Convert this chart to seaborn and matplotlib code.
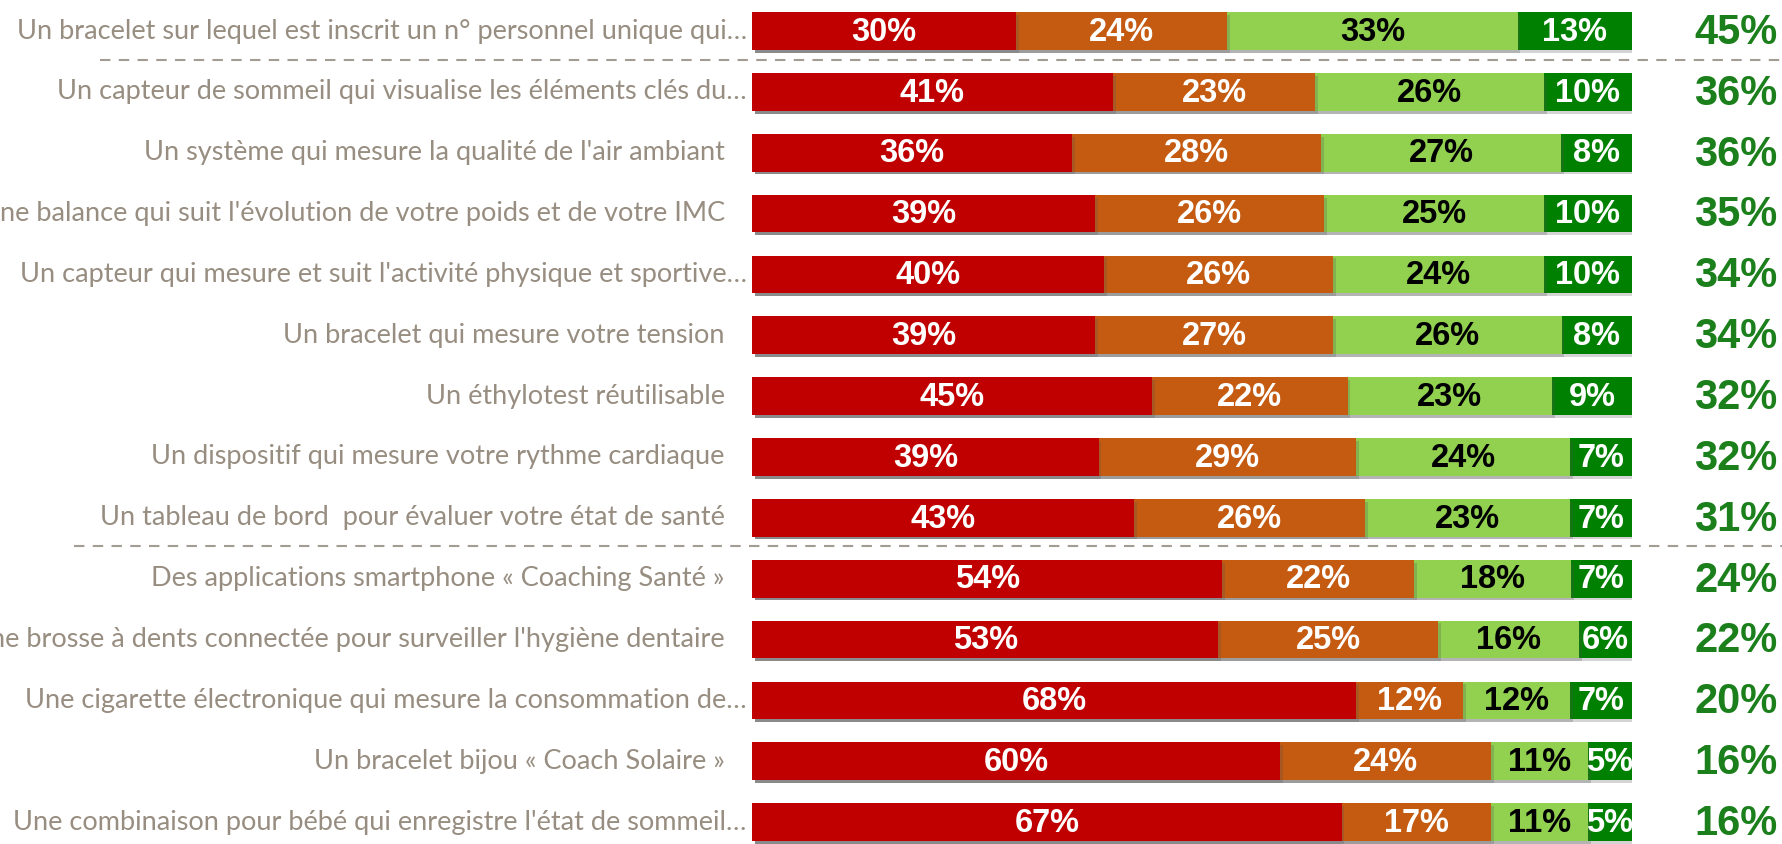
import matplotlib
matplotlib.use("Agg")
import matplotlib.pyplot as plt
import matplotlib.patheffects as pe
import pandas as pd
import seaborn as sns

# --- Data (top row first) ---
LABELS = [
    "Un bracelet sur lequel est inscrit un n° personnel unique qui…",
    "Un capteur de sommeil qui visualise les éléments clés du…",
    "Un système qui mesure la qualité de l'air ambiant",
    "Une balance qui suit l'évolution de votre poids et de votre IMC",
    "Un capteur qui mesure et suit l'activité physique et sportive…",
    "Un bracelet qui mesure votre tension",
    "Un éthylotest réutilisable",
    "Un dispositif qui mesure votre rythme cardiaque",
    "Un tableau de bord  pour évaluer votre état de santé",
    "Des applications smartphone « Coaching Santé »",
    "Une brosse à dents connectée pour surveiller l'hygiène dentaire",
    "Une cigarette électronique qui mesure la consommation de…",
    "Un bracelet bijou « Coach Solaire »",
    "Une combinaison pour bébé qui enregistre l'état de sommeil…",
]
PAS_DU_TOUT = [30, 41, 36, 39, 40, 39, 45, 39, 43, 54, 53, 68, 60, 67]
PLUTOT_PAS = [24, 23, 28, 26, 26, 27, 22, 29, 26, 22, 25, 12, 24, 17]
PLUTOT_OUI = [33, 26, 27, 25, 24, 26, 23, 24, 23, 18, 16, 12, 11, 11]
TOUT_A_FAIT = [13, 10, 8, 10, 10, 8, 9, 7, 7, 7, 6, 7, 5, 5]
TOTAL_INTERET = [45, 36, 36, 35, 34, 34, 32, 32, 31, 24, 22, 20, 16, 16]
SEPARATORS_AFTER = [0, 8]

# --- Style ---
SEG_COLORS = ["#C00000", "#C55A11", "#92D050", "#008000"]
TEXT_COLORS = ["white", "white", "black", "white"]
LABEL_COLOR = "#978D80"
TOTAL_COLOR = "#1B7F1B"

sns.set_style("white")
plt.rcParams["font.family"] = ["Liberation Sans", "DejaVu Sans"]

segments = [PAS_DU_TOUT, PLUTOT_PAS, PLUTOT_OUI, TOUT_A_FAIT]
df = pd.DataFrame({"label": LABELS})
row_sum = sum(pd.Series(s) for s in segments)
cum = pd.Series([0.0] * len(LABELS))
cums = []
for s in segments:
    cum = cum + pd.Series(s) / row_sum * 100
    cums.append(cum.copy())

fig = plt.figure(figsize=(17.83, 8.44), dpi=100)
ax = fig.add_axes([752 / 1783, 0, 880 / 1783, 1])

# draw cumulative layers from the longest to the shortest
for i in range(len(segments) - 1, -1, -1):
    df["value"] = cums[i]
    sns.barplot(data=df, x="value", y="label", color=SEG_COLORS[i], orient="h",
                width=0.62, saturation=1, ax=ax, linewidth=0)

for p in ax.patches:
    p.set_path_effects([pe.SimplePatchShadow(offset=(2, -2), alpha=0.25, shadow_rgbFace="#555555"),
                        pe.Normal()])

ax.set_xlim(0, 100)
ax.set_ylim(13.36, -0.51)
ax.axis("off")

for r in range(len(LABELS)):
    left = 0.0
    for i, s in enumerate(segments):
        right = cums[i][r]
        ax.text((left + right) / 2, r + 0.02, f"{s[r]}%", ha="center", va="center",
                fontsize=23.5, fontweight="bold", color=TEXT_COLORS[i])
        left = right
    x_lab = -0.006 if LABELS[r].endswith("…") else -0.031
    ax.text(x_lab, r, LABELS[r], transform=ax.get_yaxis_transform(), ha="right", va="center",
            fontsize=19.5, color=LABEL_COLOR, family=["Lato", "DejaVu Sans"], clip_on=False)
    ax.text(1.118, r + 0.03, f"{TOTAL_INTERET[r]}%", transform=ax.get_yaxis_transform(),
            ha="center", va="center", fontsize=30, fontweight="bold", color=TOTAL_COLOR, clip_on=False)

# dashed separators between groups
for k, r in enumerate(SEPARATORS_AFTER):
    x0 = 100 / 1783 if k == 0 else 74 / 1783
    y_disp = ax.transData.transform((0, r + 0.47))[1]
    y_fig = fig.transFigure.inverted().transform((0, y_disp))[1]
    fig.add_artist(plt.Line2D([x0, 1], [y_fig, y_fig], transform=fig.transFigure,
                              color="#A39C92", lw=1.5, ls=(0, (5, 4))))

fig.savefig("out.png", dpi=100)
